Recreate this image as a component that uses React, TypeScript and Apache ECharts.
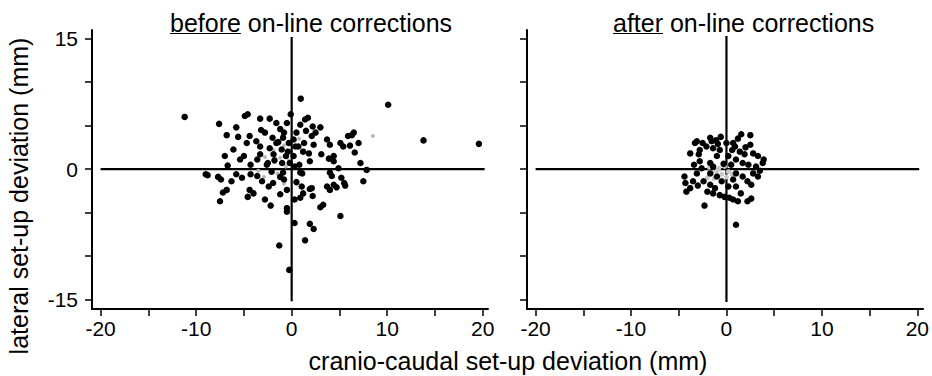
import React, { useEffect, useRef } from "react";
import * as echarts from "echarts";

// ---------- data ----------
const beforePoints: [number, number][] = [
  [-11.2, 6.0], [10.1, 7.4], [13.8, 3.3], [19.6, 2.9], [0.95, 8.1], [-1.3, -8.8], [-0.25, -11.6],
  [1.4, -8.2], [2.3, -6.9], [1.9, -6.3], [0.3, -6.2], [5.1, -5.4], [-9.0, -0.6], [-7.6, 5.2], [-7.5, -3.7],
  [-5.8, 4.8], [-4.6, 6.3], [-4.9, 6.1], [-3.3, 5.8], [-2.3, 5.8], [-1.6, 5.3], [-0.5, 5.3], [-0.1, 6.3],
  [-6.8, 3.9], [-5.6, 3.7], [-4.4, 3.8], [-3.2, 4.5], [-2.8, 4.2], [-1.2, 4.6], [-0.8, 4.2], [-0.9, 3.6],
  [-6.1, 2.25], [-4.7, 3.0], [-3.7, 3.2], [-3.3, 2.6], [-2.3, 2.4], [-1.6, 3.0], [-1.05, 2.25], [-7.0, 1.5],
  [-5.4, 1.1], [-5.0, 1.5], [-3.6, 1.1], [-3.3, 1.7], [-1.9, 1.7], [-2.6, 0.5], [-4.3, 0.5], [-6.7, 0.4],
  [-0.6, 1.5], [-0.4, 2.0], [-0.2, 0.7], [-1.0, 0.7], [-2.5, 0.7], [-1.4, 3.1], [-2.0, 3.6], [-0.3, 3.0],
  [-1.8, 1.0],
  [1.4, 5.7], [1.7, 5.9], [0.9, 5.1], [2.2, 4.9], [3.0, 4.8], [0.5, 4.2], [1.5, 4.4], [2.1, 3.8], [2.5, 4.2],
  [3.7, 3.4], [4.0, 2.8], [5.1, 3.0], [5.4, 2.6], [5.9, 3.8], [6.5, 4.2], [6.3, 3.9], [7.0, 3.0], [6.6, 1.9],
  [7.2, 0.7], [7.85, -0.1], [3.1, 1.7], [4.4, 1.5], [3.9, 1.2], [4.9, 0.1], [1.9, 0.9], [1.2, 2.0], [0.7, 2.6],
  [0.2, 3.4], [0.2, 1.5], [0.4, 2.6], [1.3, 3.0], [2.3, 2.8], [1.8, 1.8], [4.4, 0.9], [6.1, 2.7], [0.3, 0.3],
  [0.8, 0.5],
  [-7.7, -0.9], [-5.8, -0.6], [-5.2, -1.0], [-6.3, -1.4], [-6.8, -2.4], [-7.2, -2.7], [-4.4, -2.4], [-4.0, -2.8],
  [-4.6, -3.2], [-2.8, -3.5], [-2.2, -4.2], [-1.2, -2.9], [-0.5, -4.5], [-0.5, -4.9], [-7.4, -1.2], [-4.3, -0.6],
  [-3.6, -0.8], [-1.95, -1.6], [-0.9, -0.4], [-1.2, -0.9], [-2.1, -0.3], [-0.5, -2.4], [-3.1, -1.4], [-2.4, -2.0],
  [-0.8, -1.2], [-8.8, -0.7],
  [0.9, -0.4], [1.05, -2.0], [1.2, -2.8], [2.1, -2.2], [2.2, -3.1], [0.9, -3.3], [4.0, -0.4], [4.2, -0.8],
  [5.2, -1.0], [5.5, -1.6], [3.7, -2.0], [4.0, -2.4], [4.4, -1.8], [4.7, -2.1], [5.6, -1.9], [7.5, -1.4],
  [3.0, -4.4], [3.3, -4.1], [1.9, -2.3], [1.1, -0.5], [0.5, -1.5], [0.3, -3.5],
];

const beforeFaint: [number, number][] = [
  [-1.5, 3.2], [-0.8, 2.7], [-1.2, 1.3], [-0.3, 1.0], [-1.5, -0.5], [-0.8, -1.7], [-2.8, 1.4],
  [-1.0, 3.9], [0.8, 3.5], [-3.5, -0.2], [-2.9, -0.9], [8.5, 3.8], [-0.6, 0.3], [-1.9, 2.2],
];

const afterPoints: [number, number][] = [
  [1.55, 4.0], [2.5, 3.9], [2.5, 2.8], [-0.6, 3.7], [-1.7, 3.6], [-1.55, 3.2], [-3.1, 3.2], [-3.3, 3.0],
  [-3.8, 1.8], [-2.9, 1.7], [-2.1, 2.6], [-1.4, 2.4], [-1.0, 1.5], [-0.7, 2.2], [-1.7, 0.7], [0.9, 2.6],
  [1.4, 2.0], [1.9, 1.7], [1.7, 0.7], [2.8, 1.8], [3.3, 1.5], [3.8, 0.7], [3.1, 0.3], [2.3, 0.5], [1.0, 1.1],
  [0.5, 0.5], [0.2, 1.5], [0.0, 3.0], [0.7, 3.0], [-4.4, -0.85], [-4.3, -1.6], [-4.2, -2.6], [-3.5, -1.4],
  [-3.8, -2.2], [-3.1, -0.5], [-2.4, -1.4], [-1.7, -1.8], [-1.2, -2.2], [-1.4, -2.8], [-0.7, -3.0],
  [-0.2, -3.2], [0.3, -3.3], [0.7, -3.5], [1.2, -3.7], [2.2, -3.7], [-2.3, -4.2], [1.0, -6.4], [0.7, -1.2],
  [1.0, -0.5], [1.7, -0.85], [2.2, -1.4], [2.8, -0.5], [3.3, -0.85], [2.6, -1.8], [1.0, -2.0], [0.2, -2.0],
  [-1.0, -0.85], [-1.7, -0.5], [-0.5, -1.4], [-1.4, 0.3], [-2.6, 0.1], [-2.8, 0.9], [-3.4, 0.5], [3.9, 1.1],
  [-2.5, 3.0], [-1.1, 3.3], [0.6, 2.2], [2.0, 2.5], [-0.3, 0.6], [-2.0, -2.6], [1.5, -2.8], [2.6, -3.4],
  [-3.0, -1.9], [-2.8, 2.2], [1.2, 3.5], [-0.9, 2.9], [3.5, -0.2],
];

const afterFaint: [number, number][] = [
  [-1.5, -0.4], [-1.0, -0.2], [-0.5, -0.6], [0.0, -0.9], [0.4, 0.6], [-0.8, 0.1], [-2.0, -1.0],
  [-1.3, -1.1], [0.2, -0.3], [-0.2, 0.3], [0.6, -0.6], [-1.8, 0.2],
];

// reference cross lines (x = 0 and y = 0)
const beforeHLine: [number, number][] = [[-20, 0], [20.2, 0]];
const beforeVLine: [number, number][] = [[0, 15.2], [0, -15.2]];
const afterHLine: [number, number][] = [[-20, 0], [20.2, 0]];
const afterVLine: [number, number][] = [[0, 15.3], [0, -15.3]];

const xTickValues = [-20, -15, -10, -5, 0, 5, 10, 15, 20];
const xLabelValues = [-20, -10, 0, 10, 20];
const yTickValues = [-15, -10, -5, 0, 5, 10, 15];
const yLabelValues = [-15, 0, 15];

const titleBefore = "before";
const titleBeforeRest = " on-line corrections";
const titleAfter = "after";
const titleAfterRest = " on-line corrections";
const xAxisName = "cranio-caudal set-up deviation (mm)";
const yAxisName = "lateral set-up deviation (mm)";

const FONT_FAMILY = '"Liberation Sans", Arial, Helvetica, sans-serif';

function measure(text: string, font: string): number {
  const c = document.createElement("canvas").getContext("2d");
  if (!c) return text.length * 12;
  c.font = font;
  return c.measureText(text).width;
}

export default function App() {
  const ref = useRef<HTMLDivElement>(null);

  useEffect(() => {
    if (!ref.current) return;
    const chart = echarts.init(ref.current, undefined, { renderer: "svg" });

    const titleFont = `25px ${FONT_FAMILY}`;
    const nameFont = `25px ${FONT_FAMILY}`;
    const leftTitleX = 170;
    const rightTitleX = 613;
    const titleY = 23;
    const underlineY = 33.5;
    const wBefore = measure(titleBefore, titleFont);
    const wAfter = measure(titleAfter, titleFont);

    const xAxisBase = (min: number, max: number, gridIndex: number) => ({
      type: "value",
      gridIndex,
      min,
      max,
      axisLine: { show: true, onZero: false, lineStyle: { color: "#000", width: 2 } },
      axisTick: {
        show: true,
        customValues: xTickValues,
        length: 7,
        lineStyle: { color: "#000", width: 1.5 },
      },
      axisLabel: {
        show: true,
        customValues: xLabelValues,
        fontSize: 21,
        fontFamily: FONT_FAMILY,
        color: "#000",
        margin: 9,
      },
      splitLine: { show: false },
    });

    const yAxisBase = (gridIndex: number, showLabels: boolean) => ({
      type: "value",
      gridIndex,
      min: -16.1,
      max: 16,
      axisLine: { show: true, onZero: false, lineStyle: { color: "#000", width: 2 } },
      axisTick: {
        show: true,
        customValues: yTickValues,
        length: 7,
        lineStyle: { color: "#000", width: 1.5 },
      },
      axisLabel: {
        show: showLabels,
        customValues: yLabelValues,
        fontSize: 21,
        fontFamily: FONT_FAMILY,
        color: "#000",
        margin: 14,
      },
      splitLine: { show: false },
    });

    const lineSeries = (data: [number, number][], idx: number) => ({
      type: "line",
      xAxisIndex: idx,
      yAxisIndex: idx,
      data,
      showSymbol: false,
      symbol: "none",
      silent: true,
      lineStyle: { color: "#000", width: 2.2 },
      z: 1,
    });

    const scatterSeries = (data: [number, number][], idx: number, color: string, size: number) => ({
      type: "scatter",
      xAxisIndex: idx,
      yAxisIndex: idx,
      data,
      symbol: "circle",
      symbolSize: size,
      itemStyle: { color, opacity: 1 },
      silent: true,
      z: 3,
    });

    chart.setOption({
      animation: false,
      backgroundColor: "#fff",
      grid: [
        { left: 92, top: 30, width: 396, height: 279 },
        { left: 527, top: 30, width: 399, height: 279 },
      ],
      xAxis: [xAxisBase(-20.9, 20.55, 0), xAxisBase(-20.9, 20.6, 1)],
      yAxis: [yAxisBase(0, true), yAxisBase(1, false)],
      series: [
        lineSeries(beforeHLine, 0),
        lineSeries(beforeVLine, 0),
        lineSeries(afterHLine, 1),
        lineSeries(afterVLine, 1),
        scatterSeries(beforeFaint, 0, "#b8b8b8", 4),
        scatterSeries(beforePoints, 0, "#000", 6.5),
        scatterSeries(afterFaint, 1, "#c8c8c8", 5),
        scatterSeries(afterPoints, 1, "#000", 6.5),
      ],
      graphic: [
        {
          type: "text",
          x: leftTitleX,
          y: titleY,
          style: {
            text: titleBefore + titleBeforeRest,
            font: titleFont,
            fill: "#000",
            textAlign: "left",
            textVerticalAlign: "middle",
            align: "left",
            verticalAlign: "middle",
          },
        },
        {
          type: "line",
          shape: { x1: leftTitleX, y1: underlineY, x2: leftTitleX + wBefore, y2: underlineY },
          style: { stroke: "#000", lineWidth: 1.2 },
        },
        {
          type: "text",
          x: rightTitleX,
          y: titleY,
          style: {
            text: titleAfter + titleAfterRest,
            font: titleFont,
            fill: "#000",
            textAlign: "left",
            textVerticalAlign: "middle",
            align: "left",
            verticalAlign: "middle",
          },
        },
        {
          type: "line",
          shape: { x1: rightTitleX, y1: underlineY, x2: rightTitleX + wAfter, y2: underlineY },
          style: { stroke: "#000", lineWidth: 1.2 },
        },
        {
          type: "text",
          x: 508,
          y: 361,
          style: {
            text: xAxisName,
            font: nameFont,
            fill: "#000",
            textAlign: "center",
            textVerticalAlign: "middle",
            align: "center",
            verticalAlign: "middle",
          },
        },
        {
          type: "text",
          x: 19,
          y: 196,
          rotation: Math.PI / 2,
          style: {
            text: yAxisName,
            font: nameFont,
            fill: "#000",
            textAlign: "center",
            textVerticalAlign: "middle",
            align: "center",
            verticalAlign: "middle",
          },
        },
      ],
    });

    return () => chart.dispose();
  }, []);

  return (
    <div
      ref={ref}
      style={{ position: "fixed", left: 0, top: 0, width: 932, height: 376, background: "#fff" }}
    />
  );
}
